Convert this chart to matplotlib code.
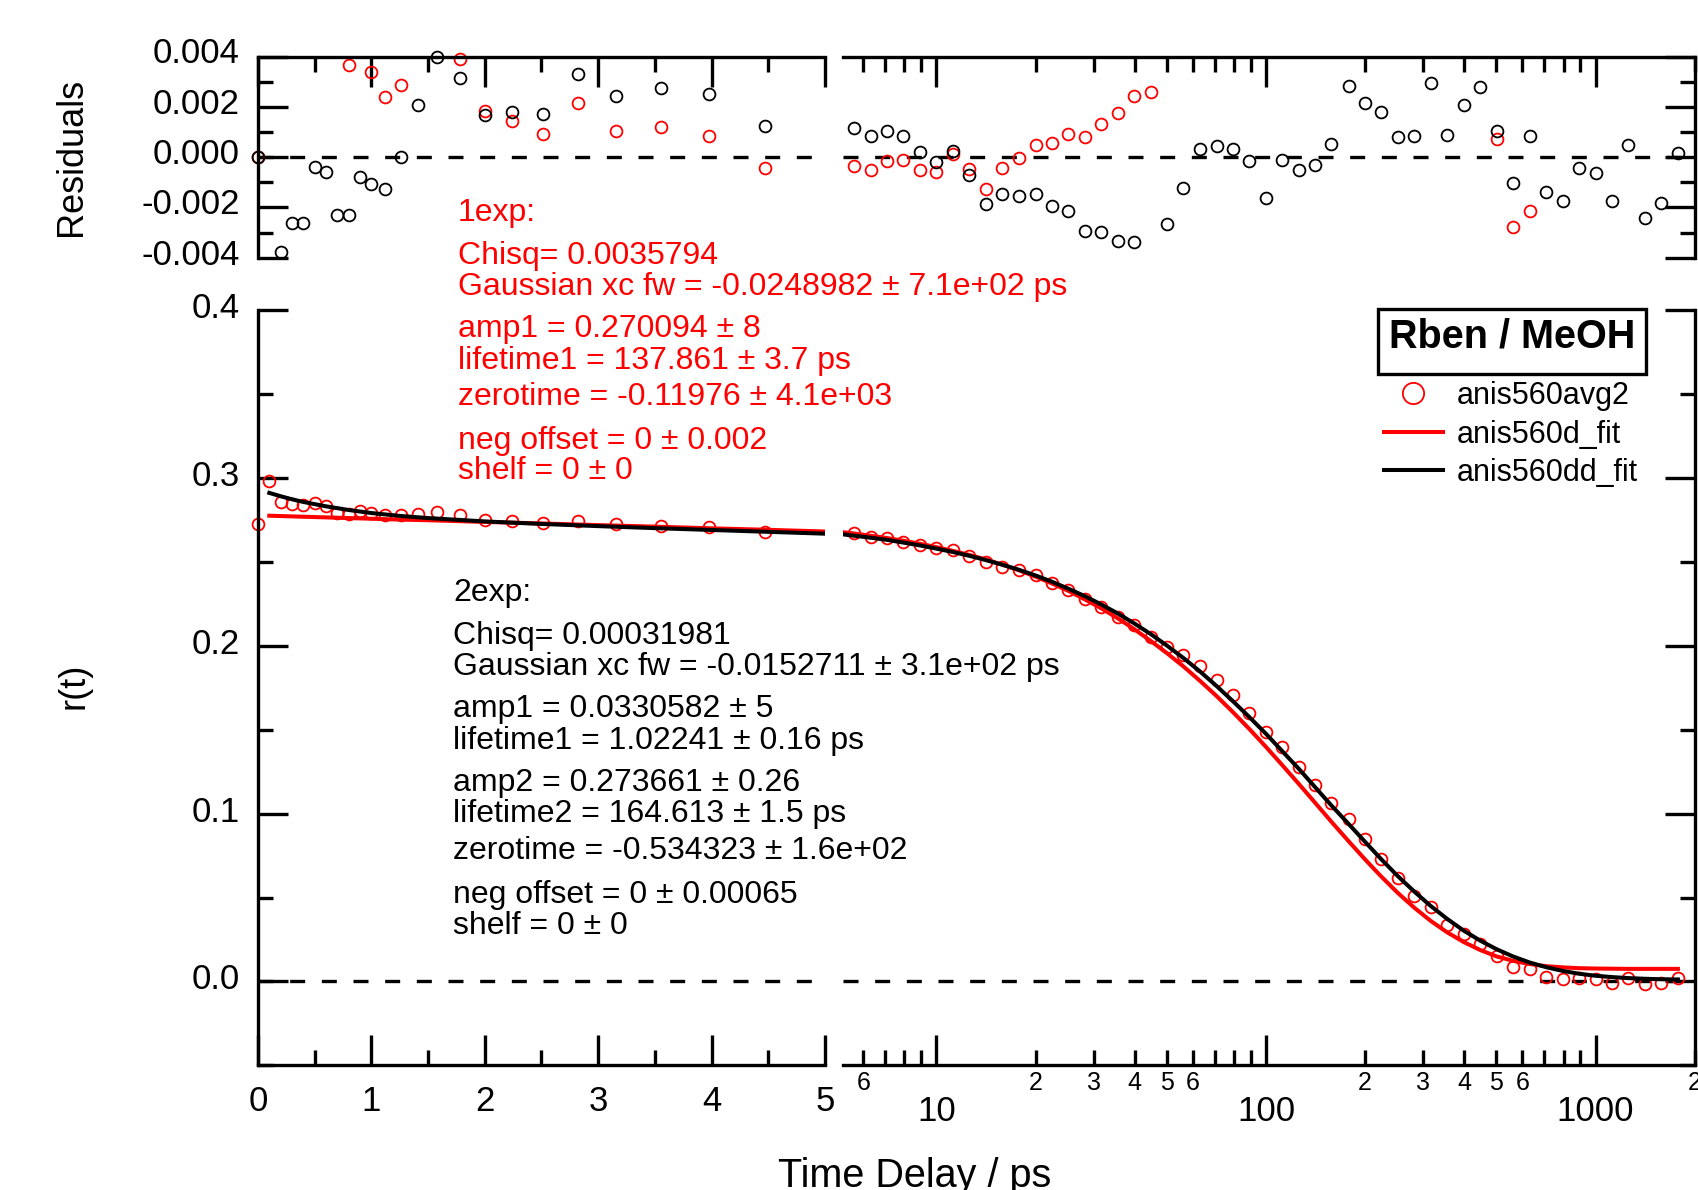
import numpy as np
import matplotlib
matplotlib.use("Agg")
import matplotlib.pyplot as plt
import matplotlib.transforms as mtransforms
from matplotlib.patches import Rectangle
from matplotlib.ticker import FixedLocator, FixedFormatter, NullFormatter

plt.rcParams['font.family'] = ['Liberation Sans', 'DejaVu Sans']

nan = np.nan

# ---- data: linear part of the time axis (0-5 ps) ----
t_lin = [0, 0.1, 0.2, 0.3, 0.4, 0.5, 0.6, 0.7, 0.8, 0.9, 1.0, 1.12, 1.26, 1.41,
         1.58, 1.78, 2.0, 2.24, 2.51, 2.82, 3.16, 3.55, 3.98, 4.47]
r_lin = [0.2727, 0.298, 0.2853, 0.2845, 0.2839, 0.2849, 0.2829, 0.279, 0.2786, 0.280,
         0.279, 0.278, 0.2776, 0.2786, 0.2794, 0.2776, 0.2751, 0.2741, 0.2731, 0.2741,
         0.2722, 0.2712, 0.2706, 0.2678]
res1_lin = [0, nan, nan, nan, nan, nan, nan, nan, 0.00368, nan, 0.00338, 0.00238, 0.00286,
            nan, nan, 0.00391, 0.00185, 0.00144, 0.00091, 0.00215, 0.00106, 0.00121,
            0.00085, -0.00042]
res2_lin = [0, nan, -0.00377, -0.00262, -0.00262, -0.00038, -0.0006, -0.00229, -0.00229,
            -0.00077, -0.00107, -0.00127, 0.0, 0.00208, 0.00397, 0.00314, 0.00168, 0.00181,
            0.00172, 0.0033, 0.00245, 0.00277, 0.00253, 0.00125]

tfit_lin = [0.1, 0.2, 0.3, 0.4, 0.6, 0.8, 1.0, 1.25, 1.5, 2.0, 2.5, 3.0, 3.5, 4.0, 4.5, 5.0]
fit1_lin = [0.2774, 0.2772, 0.2770, 0.2768, 0.2764, 0.2760, 0.2756, 0.2751, 0.2747, 0.2737,
            0.2728, 0.2718, 0.2709, 0.2699, 0.2690, 0.2680]
fit2_lin = [0.2910, 0.2890, 0.2872, 0.2856, 0.2830, 0.2808, 0.2790, 0.2773, 0.2760, 0.2740,
            0.2725, 0.2712, 0.2700, 0.2689, 0.2678, 0.2667]

# ---- data: log part of the time axis ----
t_log = [5.62, 6.31, 7.08, 7.94, 8.91, 10, 11.2, 12.6, 14.1, 15.8, 17.8, 20, 22.4, 25.1,
         28.2, 31.6, 35.5, 39.8, 44.7, 50.1, 56.2, 63.1, 70.8, 79.4, 89.1, 100, 112, 126,
         141, 158, 178, 200, 224, 251, 282, 316, 355, 398, 447, 501, 562, 631, 708, 794,
         891, 1000, 1122, 1259, 1413, 1585, 1778]
r_log = [0.267, 0.265, 0.264, 0.262, 0.260, 0.2584, 0.257, 0.2536, 0.2497, 0.247, 0.245,
         0.2421, 0.2372, 0.2332, 0.2278, 0.2229, 0.2173, 0.2123, 0.2054, 0.1994, 0.1945,
         0.1881, 0.1796, 0.1706, 0.1597, 0.1484, 0.1395, 0.1279, 0.117, 0.1061, 0.0968,
         0.0849, 0.073, 0.0615, 0.0511, 0.0442, 0.0336, 0.0281, 0.0223, 0.0154, 0.0088,
         0.0073, 0.0029, 0.0013, 0.0019, 0.0013, -0.0007, 0.0023, -0.0015, -0.0007, 0.0019]
res1_log = [-0.00034, -0.00052, -0.00016, -0.0001, -0.0005, -0.0006, 0.00013, -0.00047,
            -0.00125, -0.00044, -0.00004, 0.00048, 0.00055, 0.00092, 0.00081, 0.00133,
            0.00175, 0.00242, 0.00258,
            nan, nan, nan, nan, nan, nan, nan, nan, nan, nan,
            nan, nan, nan, nan, nan, nan, nan, nan, nan, nan,
            0.00071, -0.00277, -0.00213,
            nan, nan, nan, nan, nan, nan, nan, nan, nan]
res2_log = [0.00116, 0.00084, 0.00105, 0.00084, 0.00021, -0.0002, 0.00026, -0.00072,
            -0.00187, -0.00148, -0.00153, -0.00148, -0.00193, -0.00216, -0.00292, -0.00299,
            -0.00332, -0.00336, nan, -0.00267, -0.00124, 0.00034, 0.00044, 0.00034,
            -0.00017, -0.00162, -0.00013, -0.0005, -0.00033, 0.00051, 0.00284, 0.00214,
            0.00179, 0.00081, 0.00086, 0.00294, 0.0009, 0.00208, 0.0028, 0.00103, -0.00103,
            0.00085, -0.0014, -0.00173, -0.00041, -0.00064, -0.00174, 0.00048, -0.00243,
            -0.00182, 0.00016]

tfit_log = [5.0] + t_log
fit1_log = [0.2680, 0.2668, 0.2655, 0.2641, 0.2625, 0.2607, 0.2587, 0.2565, 0.2540, 0.2514,
            0.2483, 0.2449, 0.2411, 0.2371, 0.2327, 0.2276, 0.2223, 0.2163, 0.2099, 0.2028,
            0.1955, 0.1876, 0.1790, 0.1700, 0.1604, 0.1503, 0.1397, 0.1289, 0.1175, 0.1064,
            0.0951, 0.0836, 0.0726, 0.0624, 0.0528, 0.0439, 0.0361, 0.0292, 0.0235, 0.0187,
            0.0149, 0.0123, 0.0104, 0.0091, 0.0084, 0.0079, 0.0077, 0.0076, 0.0075, 0.0075,
            0.0075, 0.0075]
fit2_log = [0.2667, 0.2655, 0.2643, 0.2630, 0.2614, 0.2597, 0.2578, 0.2558, 0.2535, 0.2510,
            0.2483, 0.2452, 0.2418, 0.2381, 0.2340, 0.2295, 0.2246, 0.2192, 0.2133, 0.2069,
            0.2000, 0.1926, 0.1846, 0.1760, 0.1669, 0.1574, 0.1475, 0.1372, 0.1265, 0.1157,
            0.1048, 0.0939, 0.0831, 0.0727, 0.0628, 0.0535, 0.0450, 0.0372, 0.0303, 0.0243,
            0.0192, 0.0149, 0.0113, 0.0085, 0.0063, 0.0046, 0.0034, 0.0026, 0.0020, 0.0016,
            0.0013, 0.0012]

text_1exp = ["1exp:", "Chisq= 0.0035794", "Gaussian xc fw = -0.0248982 \u00b1 7.1e+02 ps",
             "amp1 = 0.270094 \u00b1 8", "lifetime1 = 137.861 \u00b1 3.7 ps",
             "zerotime = -0.11976 \u00b1 4.1e+03", "neg offset = 0 \u00b1 0.002", "shelf = 0 \u00b1 0"]
text_2exp = ["2exp:", "Chisq= 0.00031981", "Gaussian xc fw = -0.0152711 \u00b1 3.1e+02 ps",
             "amp1 = 0.0330582 \u00b1 5", "lifetime1 = 1.02241 \u00b1 0.16 ps",
             "amp2 = 0.273661 \u00b1 0.26", "lifetime2 = 164.613 \u00b1 1.5 ps",
             "zerotime = -0.534323 \u00b1 1.6e+02", "neg offset = 0 \u00b1 0.00065", "shelf = 0 \u00b1 0"]
# line centres in pixels from the top
y_1exp = [213, 256, 287, 329, 361, 397, 441, 471]
y_2exp = [593, 636, 667, 709, 741, 783, 814, 851, 895, 926]

W, H = 1698, 1190
fig = plt.figure(figsize=(W / 100, H / 100), dpi=100)

X_LIN = (0.1519, 0.4859)
X_LOG = (0.4962, 0.9985)
Y_RES = (0.7834, 0.9524)
Y_MAIN = (0.1047, 0.7396)

LW = 2.4
MAJ, MIN = 21.5, 11


def add_ax(xr, yr):
    ax = fig.add_axes([xr[0], yr[0], xr[1] - xr[0], yr[1] - yr[0]])
    ax.patch.set_alpha(0)
    for s in ax.spines.values():
        s.set_linewidth(LW)
    ax.tick_params(which='both', direction='in', width=LW, labelsize=25)
    ax.tick_params(which='major', length=MAJ)
    ax.tick_params(which='minor', length=MIN)
    return ax


def zero_line(ax):
    ax.axhline(0, color='black', lw=2.4, ls=(0, (4.5, 5)), zorder=1)


def lift_ylabels(ax, pts):
    # Igor puts the y labels a little above their ticks
    off = mtransforms.ScaledTranslation(0, pts / 72, fig.dpi_scale_trans)
    for tk in ax.yaxis.get_major_ticks():
        tk.label1.set_transform(tk.label1.get_transform() + off)


res_lin = add_ax(X_LIN, Y_RES)
res_log = add_ax(X_LOG, Y_RES)
main_lin = add_ax(X_LIN, Y_MAIN)
main_log = add_ax(X_LOG, Y_MAIN)

log_major = [10, 100, 1000]
log_minor = [6, 7, 8, 9, 20, 30, 40, 50, 60, 70, 80, 90,
             200, 300, 400, 500, 600, 700, 800, 900, 2000]
log_minor_lab = ['6', '', '', '', '2', '3', '4', '5', '6', '', '', '',
                 '2', '3', '4', '5', '6', '', '', '', '2']

# residual panel, linear part
res_lin.set_xlim(0, 5)
res_lin.set_ylim(-0.004, 0.004)
res_lin.spines['bottom'].set_visible(False)
res_lin.spines['right'].set_visible(False)
res_lin.xaxis.set_major_locator(FixedLocator([0, 1, 2, 3, 4, 5]))
res_lin.xaxis.set_minor_locator(FixedLocator([0.5, 1.5, 2.5, 3.5, 4.5]))
res_lin.tick_params(axis='x', which='both', bottom=False, top=True,
                    labelbottom=False, labeltop=False)
res_lin.yaxis.set_major_locator(FixedLocator([-0.004, -0.002, 0, 0.002, 0.004]))
res_lin.yaxis.set_minor_locator(FixedLocator([-0.003, -0.001, 0.001, 0.003]))
res_lin.set_yticklabels(['-0.004', '-0.002', '0.000', '0.002', '0.004'])
res_lin.tick_params(axis='y', pad=13)
lift_ylabels(res_lin, 4.5)
zero_line(res_lin)
res_lin.plot(t_lin, res1_lin, 'o', mfc='none', mec='red', ms=8.5, mew=1.3, clip_on=False)
res_lin.plot(t_lin, res2_lin, 'o', mfc='none', mec='black', ms=8.5, mew=1.3, clip_on=False)

# residual panel, log part
res_log.set_xscale('log')
res_log.set_xlim(5.19, 2010)
res_log.set_ylim(-0.004, 0.004)
res_log.spines['bottom'].set_visible(False)
res_log.spines['left'].set_visible(False)
res_log.xaxis.set_major_locator(FixedLocator(log_major))
res_log.xaxis.set_minor_locator(FixedLocator(log_minor))
res_log.tick_params(axis='x', which='both', bottom=False, top=True,
                    labelbottom=False, labeltop=False)
res_log.xaxis.set_minor_formatter(NullFormatter())
res_log.yaxis.set_major_locator(FixedLocator([-0.004, -0.002, 0, 0.002, 0.004]))
res_log.yaxis.set_minor_locator(FixedLocator([-0.003, -0.001, 0.001, 0.003]))
res_log.tick_params(axis='y', which='both', left=False, right=True,
                    labelleft=False, labelright=False)
zero_line(res_log)
res_log.plot(t_log, res1_log, 'o', mfc='none', mec='red', ms=8.5, mew=1.3, clip_on=False)
res_log.plot(t_log, res2_log, 'o', mfc='none', mec='black', ms=8.5, mew=1.3, clip_on=False)

# main panel, linear part
main_lin.set_xlim(0, 5)
main_lin.set_ylim(-0.05, 0.4)
main_lin.spines['top'].set_visible(False)
main_lin.spines['right'].set_visible(False)
main_lin.xaxis.set_major_locator(FixedLocator([0, 1, 2, 3, 4, 5]))
main_lin.xaxis.set_minor_locator(FixedLocator([0.5, 1.5, 2.5, 3.5, 4.5]))
main_lin.set_xticklabels(['0', '1', '2', '3', '4', '5'])
main_lin.tick_params(axis='x', pad=14)
main_lin.yaxis.set_major_locator(FixedLocator([0, 0.1, 0.2, 0.3, 0.4]))
main_lin.yaxis.set_minor_locator(FixedLocator([-0.05, 0.05, 0.15, 0.25, 0.35]))
main_lin.set_yticklabels(['0.0', '0.1', '0.2', '0.3', '0.4'])
main_lin.tick_params(axis='y', pad=13)
lift_ylabels(main_lin, 3.6)
zero_line(main_lin)
main_lin.plot(t_lin, r_lin, 'o', mfc='none', mec='red', ms=8.5, mew=1.3, clip_on=False, zorder=2)
main_lin.plot(tfit_lin, fit1_lin, color='red', lw=2.9, zorder=3)
main_lin.plot(tfit_lin, fit2_lin, color='black', lw=2.9, zorder=4)

# main panel, log part
main_log.set_xscale('log')
main_log.set_xlim(5.19, 2010)
main_log.set_ylim(-0.05, 0.4)
main_log.spines['top'].set_visible(False)
main_log.spines['left'].set_visible(False)
main_log.xaxis.set_major_locator(FixedLocator(log_major))
main_log.xaxis.set_minor_locator(FixedLocator(log_minor))
main_log.xaxis.set_major_formatter(FixedFormatter(['10', '100', '1000']))
main_log.xaxis.set_minor_formatter(FixedFormatter(log_minor_lab))
main_log.tick_params(axis='x', which='major', pad=21, labelsize=25)
main_log.tick_params(axis='x', which='minor', pad=4, labelsize=18)
main_log.yaxis.set_major_locator(FixedLocator([0, 0.1, 0.2, 0.3, 0.4]))
main_log.yaxis.set_minor_locator(FixedLocator([-0.05, 0.05, 0.15, 0.25, 0.35]))
main_log.tick_params(axis='y', which='both', left=False, right=True,
                     labelleft=False, labelright=False)
zero_line(main_log)
pts, = main_log.plot(t_log, r_log, 'o', mfc='none', mec='red', ms=8.5, mew=1.3,
                     clip_on=False, zorder=2, label='anis560avg2')
l1, = main_log.plot(tfit_log, fit1_log, color='red', lw=2.9, zorder=3, label='anis560d_fit')
l2, = main_log.plot(tfit_log, fit2_log, color='black', lw=2.9, zorder=4, label='anis560dd_fit')

leg = fig.legend(handles=[pts, l1, l2], loc='upper left',
                 bbox_to_anchor=(1384 / W, 1 - 381 / H), frameon=False, fontsize=22,
                 borderpad=0, borderaxespad=0, handlelength=1.93, handletextpad=0.46,
                 labelspacing=0.28, markerscale=1.8)

# legend title box
fig.patches.append(Rectangle((1378 / W, 1 - 374 / H), 268 / W, 65 / H,
                             transform=fig.transFigure, fc='white', ec='black', lw=2.4))
fig.text(1512 / W, 1 - 337 / H, 'Rben / MeOH', fontsize=28.5, fontweight='bold',
         ha='center', va='center')

for s, y in zip(text_1exp, y_1exp):
    fig.text(458 / W, 1 - y / H, s, color='red', fontsize=23, ha='left', va='center')
for s, y in zip(text_2exp, y_2exp):
    fig.text(453 / W, 1 - y / H, s, color='black', fontsize=23, ha='left', va='center')

fig.text(71 / W, 1 - 157 / H, 'Residuals', rotation=90, fontsize=26, ha='center', va='center')
fig.text(74 / W, 1 - 686 / H, 'r(t)', rotation=90, fontsize=26, ha='center', va='center')
fig.text(915 / W, 1 - 1176 / H, 'Time Delay / ps', fontsize=28.5, ha='center', va='center')

fig.savefig('out.png', dpi=100)
